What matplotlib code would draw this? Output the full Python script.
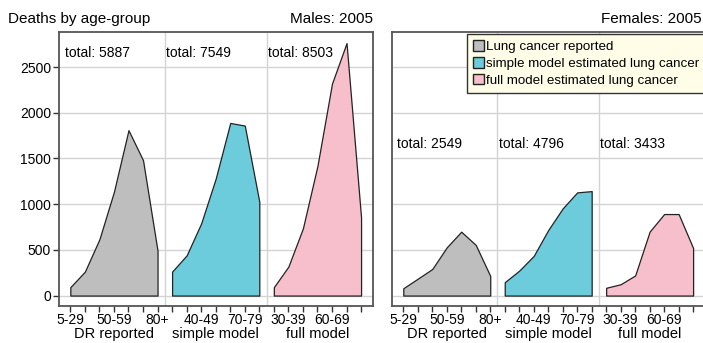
import matplotlib
matplotlib.use("Agg")
import matplotlib.pyplot as plt
from matplotlib.patches import Patch
import numpy as np

plt.rcParams['font.family'] = ['Liberation Sans', 'DejaVu Sans']

ages = ['5-29', '30-39', '40-49', '50-59', '60-69', '70-79', '80+']
groups = ['DR reported', 'simple model', 'full model']
legend_labels = ['Lung cancer reported', 'simple model estimated lung cancer',
                 'full model estimated lung cancer']
colors = ['#BEBEBE', '#6CCCDC', '#F7BFCB']

# deaths by age-group, males 2005
male_reported = [92, 262, 616, 1136, 1810, 1482, 491]
male_simple = [262, 440, 790, 1280, 1889, 1860, 1027]
male_full = [92, 317, 736, 1420, 2320, 2763, 855]
male_totals = [5887, 7549, 8503]

# deaths by age-group, females 2005
female_reported = [80, 185, 291, 528, 699, 554, 215]
female_simple = [146, 273, 434, 717, 954, 1129, 1143]
female_full = [85, 124, 220, 700, 892, 892, 520]
female_totals = [2549, 4796, 3433]

panels = [
    ("Males: 2005", [male_reported, male_simple, male_full], male_totals, 2654),
    ("Females: 2005", [female_reported, female_simple, female_full], female_totals, 1657),
]

W, H = 703, 343
fig = plt.figure(figsize=(W / 100, H / 100), dpi=100)
ax_m = fig.add_axes([58.7 / W, 37.3 / H, 314 / W, 273.4 / H])
ax_f = fig.add_axes([391.7 / W, 37.3 / H, 313 / W, 273.4 / H])

n = len(ages)
for ax, (title, series, totals, ty) in zip([ax_m, ax_f], panels):
    for g, vals in enumerate(series):
        x = np.arange(n) + g * n
        ax.fill_between(x, 0, vals, facecolor=colors[g], edgecolor='#222222',
                        linewidth=0.9, zorder=3)
        ax.text(g * n - 0.4, ty, "total: " + str(totals[g]), fontsize=10,
                va='center', ha='left', zorder=4)
        ax.text(g * n + 3, -0.105, groups[g], transform=ax.get_xaxis_transform(),
                ha='center', va='center', fontsize=10.5)

    ax.set_xlim(-0.8, 3 * n - 1 + 0.8)
    ax.set_ylim(-111, 2881)
    ticks = list(range(3 * n))
    ax.set_xticks(ticks)
    ax.set_xticklabels([ages[i % n] if i % 3 == 0 else '' for i in ticks], fontsize=10)
    ax.set_yticks([0, 500, 1000, 1500, 2000, 2500])
    for yv in [0, 500, 1000, 1500, 2000, 2500]:
        ax.axhline(yv, color='#D3D3D3', lw=1, zorder=1)
    for xv in [n - 0.5, 2 * n - 0.5]:
        ax.axvline(xv, color='#D3D3D3', lw=1, zorder=1)
    ax.tick_params(axis='both', length=4, width=1, color='#333333', pad=1.5,
                   labelsize=10)
    for s in ax.spines.values():
        s.set_color('#555555')
        s.set_linewidth(1.3)

ax_m.text(1.0, 1.047, "Males: 2005", transform=ax_m.transAxes, ha='right',
          va='center', fontsize=11)
fig.text(702 / W, 1 - 19 / H, "Females: 2005", ha='right', va='center', fontsize=11)
ax_f.set_yticks([])

fig.text(8 / W, 1 - 19 / H, "Deaths by age-group", ha='left', va='center', fontsize=11)

handles = [Patch(facecolor=c, edgecolor='#222222', linewidth=1) for c in colors]
leg = ax_f.legend(handles, legend_labels, loc='upper left',
                  bbox_to_anchor=(0.2415, 0.994), borderaxespad=0, fontsize=9.6,
                  handlelength=0.8, handleheight=0.85, handletextpad=0.15,
                  labelspacing=0.3, borderpad=0.45, fancybox=False,
                  framealpha=1)
leg.get_frame().set_facecolor('#FFFDE8')
leg.get_frame().set_edgecolor('#333333')
leg.get_frame().set_linewidth(1)
leg.set_zorder(5)

fig.savefig("out.png", dpi=100)
